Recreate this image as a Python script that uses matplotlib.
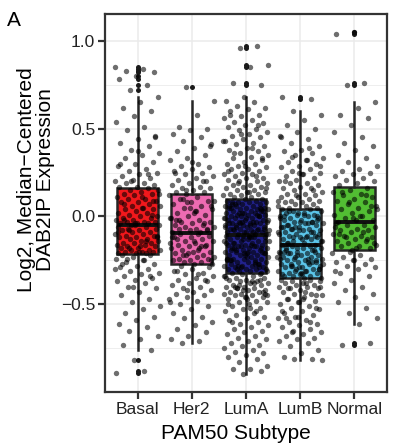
import matplotlib
matplotlib.use("Agg")
import matplotlib.pyplot as plt
import numpy as np

plt.rcParams['font.family'] = ['Liberation Sans', 'DejaVu Sans']

# ---------------- data ----------------
categories = ["Basal", "Her2", "LumA", "LumB", "Normal"]
box_colors = ["#F2181C", "#EE6BB2", "#22228F", "#5CC6EA", "#52BE33"]

# box statistics
q1 = [-0.215, -0.27, -0.32, -0.35, -0.19]
median = [-0.05, -0.095, -0.108, -0.16, -0.03]
q3 = [0.16, 0.13, 0.097, 0.045, 0.17]
whisker_low = [-0.76, -0.72, -0.90, -0.82, -0.61]
whisker_high = [0.68, 0.66, 0.68, 0.60, 0.65]

basal = [.85,.84,.83,.82,.80,.78,.75,.72,.68,.65,.62,.60,.57,.54,.51,.49,.46,.44,.42,.40,
         .38,.36,.35,.33,.31,.30,.29,.27,.26,.25,.24,.23,.22,.21,.20,.19,.19,.18,.17,.17,
         .16,.15,.15,.14,.13,.13,.12,.11,.10,.10,.09,.08,.08,.07,.06,.06,.05,.04,.04,.03,
         .02,.02,.01,.00,.00,-.01,-.01,-.02,-.02,-.03,-.03,-.03,-.04,-.04,-.04,-.05,-.05,.11,.07,.01,
         -.05,-.06,-.06,-.07,-.07,-.08,-.08,-.09,-.09,-.10,-.10,-.11,-.11,-.12,-.12,-.13,-.13,-.14,-.14,-.15,
         -.15,-.15,-.16,-.16,-.17,-.17,-.18,-.18,-.19,-.19,-.19,-.20,-.20,-.20,-.21,-.21,-.21,-.08,-.12,-.17,
         -.22,-.22,-.23,-.24,-.25,-.26,-.27,-.28,-.29,-.30,-.31,-.32,-.33,-.34,-.35,-.36,-.37,-.38,-.40,-.41,
         -.43,-.45,-.47,-.49,-.51,-.53,-.55,-.57,-.59,-.61,-.63,-.65,-.68,-.70,-.73,-.76,-.82,-.89,-.88,-.24,
         .45,.37,.30,.24,.20,.13,.05,-.02,.09,-.04,-.09,-.14,-.18,-.11,-.20,-.27,-.34,-.40,-.30,-.25]

her2 = [.74,.66,.58,.51,.50,.49,.47,.45,.43,.41,.39,.37,.35,.33,.32,.30,.29,.28,.27,.26,
        .25,.24,.23,.22,.21,.20,.19,.18,.17,.16,.16,.15,.14,.14,.13,
        .12,.11,.10,.09,.08,.07,.06,.05,.04,.03,.02,.01,.00,-.01,-.02,-.03,-.03,-.04,-.05,-.05,
        -.06,-.06,-.07,-.07,-.08,-.08,-.09,-.09,.10,.06,.02,-.02,-.04,.08,-.01,
        -.10,-.10,-.11,-.12,-.12,-.13,-.14,-.14,-.15,-.16,-.16,-.17,-.18,-.18,-.19,-.20,-.20,-.21,-.22,-.22,
        -.23,-.23,-.24,-.24,-.25,-.25,-.26,-.26,-.27,-.27,-.13,-.17,-.21,-.15,-.19,
        -.28,-.29,-.30,-.31,-.32,-.33,-.34,-.35,-.36,-.37,-.38,-.39,-.40,-.41,-.42,-.43,-.44,-.45,-.46,-.47,
        -.48,-.50,-.51,-.53,-.55,-.57,-.58,-.60,-.62,-.64,-.66,-.68,-.70,-.71,-.72,
        .40,.31,.25,.20,.15,.09,.03,-.02,-.07,.05,-.12,-.17,-.22,-.25,-.14,-.31,-.36,-.42,-.49,-.33]

luma = [.97,.96,.86,.85,.76,.75,.68,.66,.65,.63,.62,.61,.60,.58,.57,.56,.55,.54,.53,.52,
        .51,.50,.49,.48,.47,.46,.45,.44,.43,.42,.41,.40,.39,.38,.37,.36,.35,.34,.33,.32,
        .31,.30,.30,.29,.28,.27,.27,.26,.25,.24,.24,.23,.22,.22,.21,.20,.20,.19,.18,.18,
        .17,.17,.16,.15,.15,.14,.14,.13,.13,.12,.12,.11,.11,.10,.10,
        .09,.09,.08,.08,.08,.07,.07,.07,.06,.06,.06,.05,.05,.05,.04,.04,.04,.03,.03,.03,
        .02,.02,.02,.01,.01,.01,.00,.00,.00,-.01,-.01,-.01,-.02,-.02,-.02,-.03,-.03,-.03,-.04,-.04,
        -.04,-.05,-.05,-.05,-.06,-.06,-.06,-.07,-.07,-.07,-.08,-.08,-.08,-.09,-.09,-.09,-.10,-.10,-.10,-.11,
        .05,.00,-.03,-.06,-.09,.07,.03,-.01,-.04,-.08,.02,-.02,-.05,-.07,.04,
        -.11,-.11,-.12,-.12,-.12,-.13,-.13,-.14,-.14,-.14,-.15,-.15,-.16,-.16,-.16,-.17,-.17,-.18,-.18,-.18,
        -.19,-.19,-.20,-.20,-.20,-.21,-.21,-.22,-.22,-.22,-.23,-.23,-.24,-.24,-.24,-.25,-.25,-.26,-.26,-.26,
        -.27,-.27,-.28,-.28,-.28,-.29,-.29,-.30,-.30,-.30,-.31,-.31,-.31,-.32,-.32,-.13,-.15,-.17,-.19,-.21,
        -.23,-.25,-.27,-.29,-.14,-.16,-.18,-.20,-.22,-.24,-.26,-.28,-.30,-.12,-.19,
        -.33,-.33,-.34,-.34,-.35,-.35,-.36,-.36,-.37,-.37,-.38,-.38,-.39,-.39,-.40,-.40,-.41,-.41,-.42,-.42,
        -.43,-.43,-.44,-.44,-.45,-.45,-.46,-.46,-.47,-.48,-.49,-.49,-.50,-.51,-.52,-.53,-.54,-.55,-.56,-.57,
        -.58,-.59,-.60,-.61,-.62,-.63,-.64,-.65,-.66,-.67,-.68,-.69,-.70,-.71,-.72,-.73,-.74,-.75,-.76,-.77,
        -.78,-.79,-.80,-.81,-.83,-.85,-.87,-.87,-.88,-.90,-.35,-.38,-.41,-.44,-.47,
        .58,.52,.47,.43,.39,.36,.33,.29,.26,.23,.19,.16,.14,
        .08,.05,.02,-.01,-.03,-.05,-.07,-.09,.06,.01,-.04,-.10,
        -.12,-.15,-.18,-.21,-.24,-.27,-.30,-.14,-.20,-.25,-.29,-.17,
        -.34,-.37,-.40,-.43,-.46,-.50,-.54,-.39,-.45,-.52,-.60,-.36,-.42]

lumb = [.68,.67,.60,.58,.55,.52,.50,.48,.46,.44,.42,.40,.38,.37,.36,.35,.33,.32,.31,.30,
        .29,.28,.27,.26,.25,.24,.23,.22,.21,.20,.19,.19,.18,.17,.16,.16,.15,.14,.13,.13,
        .12,.11,.11,.10,.09,.09,.08,.08,.07,.07,.06,.06,.05,.05,.25,
        .04,.04,.03,.03,.02,.02,.01,.01,.00,.00,-.01,-.01,-.02,-.02,-.03,-.03,-.04,-.04,-.05,-.05,
        -.06,-.06,-.07,-.07,-.08,-.08,-.09,-.09,-.10,-.10,-.11,-.11,-.12,-.12,-.13,-.13,-.14,-.14,-.15,-.15,
        -.16,.02,-.01,-.04,-.07,-.10,-.13,.00,-.03,-.06,-.09,-.12,-.15,-.02,-.08,
        -.16,-.17,-.17,-.18,-.18,-.19,-.19,-.20,-.20,-.21,-.21,-.22,-.22,-.23,-.23,-.24,-.24,-.25,-.25,-.26,
        -.26,-.27,-.27,-.28,-.28,-.29,-.29,-.30,-.30,-.31,-.31,-.32,-.32,-.33,-.33,-.34,-.34,-.35,-.35,-.18,
        -.20,-.22,-.24,-.26,-.28,-.30,-.32,-.34,-.19,-.23,-.27,-.31,-.21,-.25,-.29,
        -.36,-.36,-.37,-.37,-.38,-.38,-.39,-.39,-.40,-.40,-.41,-.41,-.42,-.43,-.44,-.44,-.45,-.46,-.47,-.48,
        -.49,-.50,-.51,-.52,-.53,-.54,-.55,-.56,-.57,-.58,-.59,-.60,-.61,-.62,-.63,-.64,-.65,-.66,-.67,-.68,
        -.69,-.70,-.71,-.72,-.74,-.76,-.78,-.80,-.81,-.81,-.82,-.43,-.47,-.52,-.57,
        .45,.39,.34,.29,.24,.20,.15,.12,.09,.32,
        .03,.00,-.03,-.06,-.09,-.12,-.14,.01,-.05,-.11,
        -.18,-.21,-.24,-.27,-.30,-.33,-.20,-.26,-.31,-.23,
        -.38,-.41,-.45,-.49,-.54,-.60,-.66,-.40,-.47,-.58]

normal = [1.05,1.04,.76,.75,.65,.62,.58,.56,.52,.48,.45,.42,.40,.38,.35,.33,.31,.29,.27,.26,
          .25,.24,.23,.22,.21,.20,.19,.18,
          .16,.15,.14,.13,.12,.11,.10,.09,.08,.07,.06,.05,.04,.03,.02,.01,.00,-.01,-.02,-.02,
          -.03,.12,.08,.04,.00,.14,.06,-.01,
          -.04,-.05,-.05,-.06,-.07,-.08,-.08,-.09,-.10,-.11,-.11,-.12,-.13,-.14,-.14,-.15,-.16,-.17,-.17,-.18,
          -.19,-.06,-.09,-.12,-.15,-.18,-.10,-.13,
          -.20,-.21,-.22,-.23,-.24,-.25,-.26,-.27,-.28,-.29,-.30,-.32,-.34,-.36,-.38,-.40,-.42,-.44,-.46,-.49,
          -.52,-.55,-.58,-.61,-.73,-.72,-.25,-.31]

groups = [basal, her2, luma, lumb, normal]

# ---------------- figure ----------------
W, H = 403, 444
fig = plt.figure(figsize=(W / 100, H / 100), dpi=100)
ax = fig.add_axes([105 / W, 1 - 392 / H, 282 / W, 378 / H])

positions = np.arange(1, len(categories) + 1)
stats = []
for i, vals in enumerate(groups):
    fl = [v for v in vals if v > whisker_high[i] + 1e-9 or v < whisker_low[i] - 1e-9]
    stats.append(dict(med=median[i], q1=q1[i], q3=q3[i],
                      whislo=whisker_low[i], whishi=whisker_high[i], fliers=fl))

edge = "#262626"
bp = ax.bxp(stats, positions=positions, widths=0.75, patch_artist=True,
            showcaps=False,
            boxprops=dict(edgecolor=edge, linewidth=1.8),
            whiskerprops=dict(color=edge, linewidth=1.8),
            medianprops=dict(color="#111111", linewidth=2.8, solid_capstyle="butt"),
            flierprops=dict(marker="o", markerfacecolor="#1a1a1a", markeredgecolor="none",
                            markersize=3.6),
            zorder=2)
for patch, c in zip(bp["boxes"], box_colors):
    patch.set_facecolor(c)

# deterministic jitter for the point cloud
golden = 0.6180339887
for i, vals in enumerate(groups):
    n = len(vals)
    u = (np.arange(n) * golden + 0.37 * i) % 1.0
    xs = positions[i] + (u * 2 - 1) * 0.42
    ax.scatter(xs, vals, s=15, color="black", alpha=0.57, linewidths=0, zorder=3)

ax.set_xlim(0.4, 5.6)
ax.set_ylim(-1.0, 1.153)
ax.set_xticks(positions)
ax.set_xticklabels(categories)
ax.set_yticks([-0.5, 0.0, 0.5, 1.0])
ax.set_yticks([-0.75, -0.25, 0.25, 0.75], minor=True)
ax.tick_params(axis="y", which="minor", length=0)
ax.grid(True, which="major", color="#EBEBEB", linewidth=1.1, zorder=0)
ax.grid(True, which="minor", axis="y", color="#EBEBEB", linewidth=0.6, zorder=0)
ax.set_axisbelow(True)
ax.tick_params(axis="both", which="major", length=5, width=1.6, color="#333333",
               labelsize=12.5, labelcolor="#222222", pad=2)
for sp in ax.spines.values():
    sp.set_color("#333333")
    sp.set_linewidth(1.6)

fig.text(236 / W, 1 - 433 / H, "PAM50 Subtype", fontsize=15, ha="center", va="center")
fig.text(36 / W, 1 - 180 / H, "Log2, Median\u2212Centered\nDAB2IP Expression", fontsize=15,
         rotation=90, ha="center", va="center", multialignment="center", linespacing=0.95)
fig.text(14 / W, 1 - 20 / H, "A", fontsize=15, ha="center", va="center")

fig.savefig("out.png", dpi=100)
